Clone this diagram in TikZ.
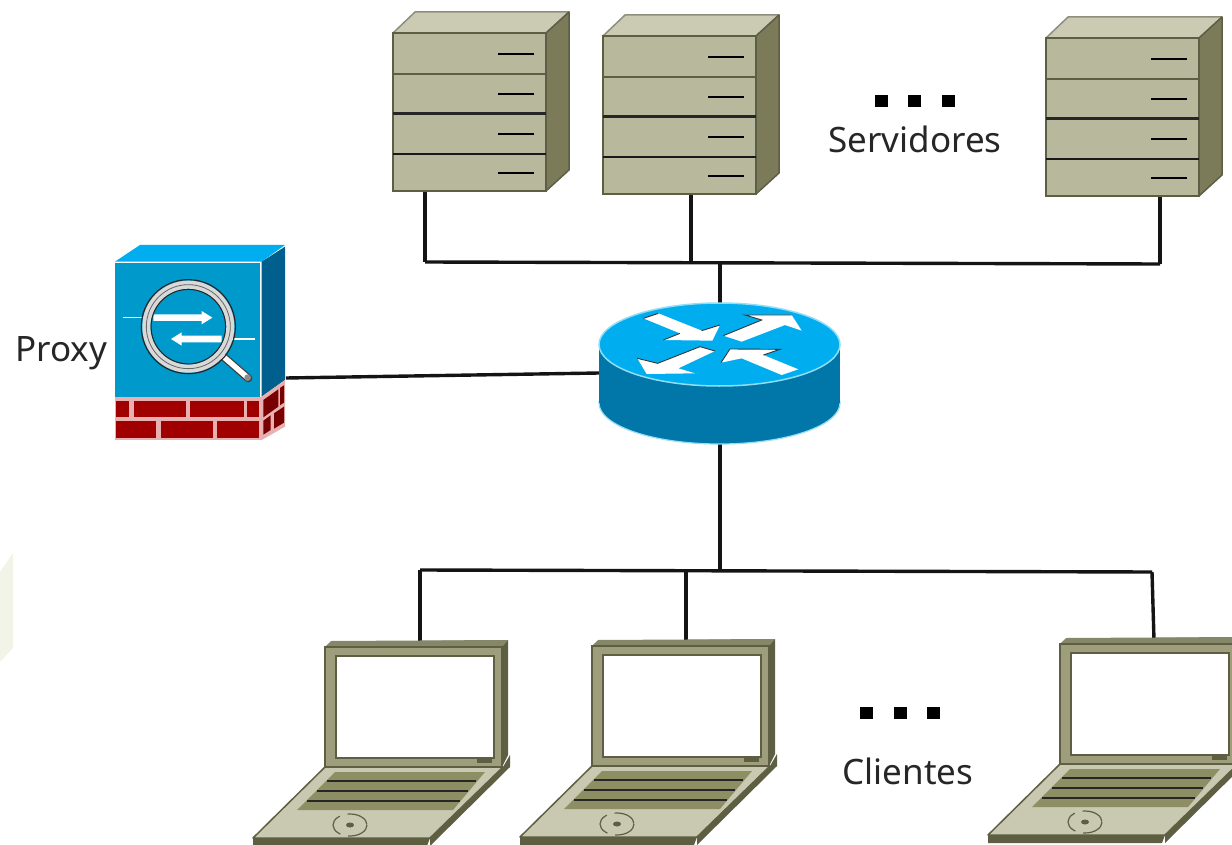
\documentclass[tikz,border=0pt]{standalone}
\usepackage{fontspec}
\setmainfont{Noto Sans}
\usetikzlibrary{calc}
\definecolor{srvfront}{HTML}{B8B89C}
\definecolor{srvtop}{HTML}{CBCBB4}
\definecolor{srvside}{HTML}{7B7B5A}
\definecolor{srvline}{HTML}{5E5E44}
\definecolor{lapframe}{HTML}{9E9E7C}
\definecolor{lapside}{HTML}{5E5E42}
\definecolor{lapbase}{HTML}{C9C9B1}
\definecolor{lapkeys}{HTML}{8E8E64}
\definecolor{rttop}{HTML}{00AEEF}
\definecolor{rtside}{HTML}{0077A8}
\definecolor{rtedge}{HTML}{8FDDF7}
\definecolor{pxfront}{HTML}{0099CC}
\definecolor{pxside}{HTML}{005F8C}
\definecolor{brick}{HTML}{A00000}
\definecolor{brickside}{HTML}{780000}
\definecolor{mortar}{HTML}{E8B0B0}
\definecolor{paleshape}{HTML}{F2F4E8}
\tikzset{
  x=1pt,y=-1pt,
  wire/.style={line width=3.4pt,black!92},
  devbox/.style={inner sep=0pt,outer sep=0pt},
  label/.style={inner sep=0pt,font=\fontsize{35}{35}\selectfont,text=black!85},
  dot/.style={fill=black},
  server/.pic={
    \fill[srvtop,draw=srvline!70,line width=1.5pt,line join=round] (0,0)--(22,-21)--(176,-21)--(153,0)--cycle;
    \fill[srvside,draw=srvline,line width=1.5pt,line join=round] (153,0)--(176,-21)--(176,137)--(153,158)--cycle;
    \fill[srvfront,draw=srvline,line width=2pt] (0,0) rectangle (153,158);
    \draw[srvline,line width=2pt] (0,41)--(153,41);
    \draw[black!85,line width=3pt] (0,81)--(153,81);
    \draw[black!90,line width=2.6pt] (0,121)--(153,121);
    \foreach \yy in {21,61,101,140}
      \draw[black,line width=2.8pt] (105,\yy)--(141,\yy);
  },
  laptop/.pic={
    \begin{scope}[shift={(-325,-642)}]
      \fill[lapside] (325,647)--(331,642)--(508,640)--(508,755)--(502,767)--cycle;
      \fill[lapframe!85!black] (325,647)--(331,641)--(508,640)--(502,647)--cycle;
      \fill[lapframe,draw=lapside,line width=1.5pt] (325,647) rectangle (502,767);
      \fill[white,draw=lapside,line width=1.5pt] (336,656) rectangle (494,758);
      \fill[lapside] (477,759) rectangle (492,763);
      \fill[lapside] (253,838)--(430,838)--(427,846)--(253,846)--cycle;
      \fill[lapside] (503,767)--(510,755)--(510,767)--(430,846)--(430,838)--cycle;
      \fill[lapbase,draw=lapside,line width=1.5pt,line join=round] (325,767)--(503,767)--(430,838)--(253,838)--cycle;
      \fill[lapkeys] (335,772)--(485,772)--(453,810)--(297,810)--cycle;
      \draw[black!85,line width=2.2pt] (327,781)--(476,781);
      \draw[black!85,line width=2.2pt] (317,791)--(468,791);
      \draw[black!85,line width=2.2pt] (307,801)--(460,801);
      \draw[lapside,line width=1.2pt,dash pattern=on 24pt off 8pt] (350,825) ellipse [x radius=17,y radius=11];
      \fill[lapside] (350,825) ellipse [x radius=4,y radius=2.5];
    \end{scope}
  }
}
\begin{document}
\begin{tikzpicture}
\useasboundingbox (0,0) rectangle (1232,845);
\clip (0,0) rectangle (1232,845);
\fill[paleshape] (0,572)--(13,553)--(13,648)--(0,662)--cycle;

% layout nodes
\node[devbox,minimum width=153pt,minimum height=158pt,anchor=north west] (srvA) at (393,33) {};
\node[devbox,minimum width=153pt,minimum height=158pt,anchor=north west] (srvB) at (603,36) {};
\node[devbox,minimum width=153pt,minimum height=158pt,anchor=north west] (srvC) at (1046,38) {};
\node[devbox,minimum width=242pt,minimum height=141pt,anchor=north west] (router) at (598,303) {};
\node[devbox,minimum width=171pt,minimum height=193pt,anchor=north west] (proxy) at (115,245) {};
\node[devbox,minimum width=183pt,minimum height=5pt,anchor=south west] (lapA) at (325,642) {};
\node[devbox,minimum width=183pt,minimum height=5pt,anchor=south west] (lapB) at (592,641) {};
\node[devbox,minimum width=183pt,minimum height=5pt,anchor=south west] (lapC) at (1060,640) {};

\coordinate (busA) at (425,262);
\coordinate (busB) at (691,263);
\coordinate (busR) at (720,263);
\coordinate (busC) at (1160,264);
\coordinate (cliA) at (420,570);
\coordinate (cliB) at (686,571);
\coordinate (cliR) at (720,570);
\coordinate (cliC) at (1152,572);
\coordinate (pxPort) at (286,378);
\coordinate (rtPort) at (599,373);

% connectors
\draw[wire] (busA |- srvA.south) -- (busA);
\draw[wire] (busB |- srvB.south) -- (busB);
\draw[wire] (busC |- srvC.south) -- (busC);
\draw[wire] (busA) -- (busC);
\draw[wire] (busR) -- (router.north -| busR);
\draw[wire] (pxPort) -- (rtPort);
\draw[wire] (router.south -| cliR) -- (cliR);
\draw[wire] (cliA) -- (cliC);
\draw[wire] (cliA) -- (cliA |- lapA.south);
\draw[wire] (cliB) -- (cliB |- lapB.south);
\draw[wire] (cliC) -- (1154,640);

% servers
\pic at (srvA.north west) {server};
\pic at (srvB.north west) {server};
\pic at (srvC.north west) {server};

% laptops
\pic at (325,642) {laptop};
\pic at (592,641) {laptop};
\pic at (1060,639) {laptop};

% router
\fill[rtside,draw=rtedge,line width=1.2pt] (719.5,403) ellipse [x radius=120.5,y radius=41];
\fill[rtside] (599,344) rectangle (840,403);
\fill[rttop,draw=rtedge,line width=1.5pt] (719.5,344.5) ellipse [x radius=120.5,y radius=41.5];
\begin{scope}[shift={(585,290)},scale=0.33333]
  \fill[white] (175,85)--(220,70)--(350,122)--(405,105)--(382,152)--(235,150)--(285,130)--cycle;
  \fill[white] (415,137)--(530,90)--(480,75)--(620,75)--(650,122)--(600,105)--(470,155)--cycle;
  \fill[white] (345,170)--(390,183)--(280,235)--(330,250)--(185,252)--(157,205)--(218,220)--cycle;
  \fill[white] (640,238)--(590,255)--(470,205)--(408,218)--(435,177)--(585,178)--(535,195)--cycle;
  \draw[black!80,line width=0.9pt] (175,85)--(220,70) (350,122)--(405,105) (235,150)--(285,130);
  \draw[black!80,line width=0.9pt] (415,137)--(530,90)--(480,75)--(620,75);
  \draw[black!80,line width=0.9pt] (218,220)--(345,170)--(390,183) (157,205)--(218,220);
  \draw[black!80,line width=0.9pt] (408,218)--(435,177)--(585,178)--(535,195);
\end{scope}

% proxy
\begin{scope}[shift={(90,230)},scale=0.33333]
  \fill[rttop] (75,95)--(150,45)--(585,45)--(515,95)--cycle;
  \fill[pxside] (515,95)--(585,50)--(585,450)--(515,500)--cycle;
  \fill[mortar] (75,500) rectangle (515,630);
  \fill[mortar] (515,500)--(585,450)--(585,590)--(515,630)--cycle;
  \fill[pxfront] (75,98) rectangle (510,500);
  \fill[brick] (78,512) rectangle (118,560);
  \fill[brick] (132,512) rectangle (288,560);
  \fill[brick] (300,512) rectangle (462,560);
  \fill[brick] (472,512) rectangle (508,560);
  \fill[brick] (78,574) rectangle (198,625);
  \fill[brick] (214,574) rectangle (368,625);
  \fill[brick] (382,574) rectangle (508,625);
  \fill[brickside] (520,510)--(565,478)--(565,530)--(520,562)--cycle;
  \fill[brickside] (570,474)--(582,466)--(582,518)--(570,526)--cycle;
  \fill[brickside] (520,572)--(542,556)--(542,600)--(520,614)--cycle;
  \fill[brickside] (552,550)--(582,530)--(582,578)--(552,596)--cycle;
  % arrows
  \draw[white,line width=1.2pt] (100,263)--(170,263);
  \draw[white,line width=1.2pt] (420,327)--(495,327);
  \fill[white] (190,253)--(335,253)--(335,243)--(367,263)--(335,283)--(335,273)--(190,273)--cycle;
  \fill[white] (395,317)--(275,317)--(275,307)--(243,327)--(275,347)--(275,337)--(395,337)--cycle;
  % handle
  \draw[black!75,line width=8pt,line cap=round] (398,378)--(475,445);
  \draw[white,line width=5.4pt,line cap=round] (398,378)--(473,443);
  \fill[black!45] (473,443) circle (10);
  % lens
  \draw[black!85,line width=1.2pt] (295,290) circle (141);
  \draw[black!85,line width=1.2pt] (295,290) circle (112);
  \draw[black!15,line width=8pt] (295,290) circle (126);
  \draw[black!60,line width=0.8pt] (295,290) circle (126);
\end{scope}

% dots and labels
\fill[dot] (875,95) rectangle (888,107);
\fill[dot] (908,95) rectangle (921,107);
\fill[dot] (942,95) rectangle (955,107);
\fill[dot] (860,707) rectangle (873,719);
\fill[dot] (894,707) rectangle (907,719);
\fill[dot] (927,707) rectangle (940,719);
\node[label] (lblSrv) at (915,139) {Servidores};
\node[label] (lblCli) at (908,771) {Clientes};
\node[label] (lblPrx) at (61,353) {Proxy};
\end{tikzpicture}
\end{document}
